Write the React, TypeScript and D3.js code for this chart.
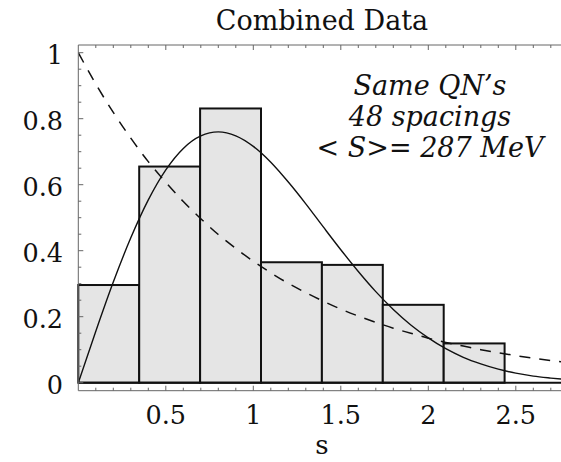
import React from "react";
import * as d3 from "d3";

const W = 561;
const H = 462;

// histogram: bin edges (s in units of <S>) and normalized heights
const binEdges = [0, 0.348, 0.696, 1.044, 1.392, 1.74, 2.088, 2.436];
const binHeights = [0.296, 0.655, 0.831, 0.365, 0.357, 0.236, 0.119];

// curves
const curveS = [0, 0.1, 0.2, 0.3, 0.4, 0.5, 0.6, 0.7, 0.8, 0.9, 1.0, 1.1, 1.2, 1.3, 1.4, 1.5, 1.6, 1.7, 1.8, 1.9, 2.0, 2.1, 2.2, 2.3, 2.4, 2.5, 2.6, 2.7, 2.8];
const wignerVals = [0, 0.156, 0.305, 0.439, 0.554, 0.645, 0.710, 0.748, 0.760, 0.748, 0.716, 0.668, 0.608, 0.542, 0.472, 0.403, 0.337, 0.276, 0.222, 0.175, 0.136, 0.103, 0.077, 0.057, 0.041, 0.029, 0.020, 0.014, 0.009];
const poissonVals = [1, 0.905, 0.819, 0.741, 0.670, 0.607, 0.549, 0.497, 0.449, 0.407, 0.368, 0.333, 0.301, 0.273, 0.247, 0.223, 0.202, 0.183, 0.165, 0.150, 0.135, 0.122, 0.111, 0.100, 0.091, 0.082, 0.074, 0.067, 0.061];

const xTickLabels = [0.5, 1, 1.5, 2, 2.5];
const yTickLabels = [0, 0.2, 0.4, 0.6, 0.8, 1];

const title = "Combined Data";
const xLabel = "s";
const noteLines = ["Same QN\u2019s", "48 spacings", "< S>= 287 MeV"];

export default function App() {
  const left = 78.3;
  const right = 561;
  const top = 45;
  const bottom = 390.7;
  const x = d3.scaleLinear().domain([0, 2.76]).range([left, left + 2.76 * 175]);
  const y = d3.scaleLinear().domain([0, 1]).range([382.7, 52.7]);

  const serif = "'DejaVu Serif', serif";

  const wignerLine = d3
    .line<number>()
    .x((_, i) => x(curveS[i]))
    .y((d) => y(d))
    .curve(d3.curveMonotoneX)(wignerVals) as string;
  const poissonLine = d3
    .line<number>()
    .x((_, i) => x(curveS[i]))
    .y((d) => y(d))
    .curve(d3.curveMonotoneX)(poissonVals) as string;

  const xMinor = d3.range(1, 28).map((i) => i / 10);
  const yMinor = d3.range(0, 21).map((i) => i / 20);

  return (
    <svg
      width={W}
      height={H}
      style={{ position: "absolute", left: 0, top: 0, background: "#fff" }}
    >
      <defs>
        <clipPath id="plot">
          <rect x={left} y={top} width={right - left} height={bottom - top} />
        </clipPath>
      </defs>
      {/* bars */}
      {binHeights.map((h, i) => (
        <rect
          key={i}
          x={x(binEdges[i])}
          y={y(h)}
          width={x(binEdges[i + 1]) - x(binEdges[i])}
          height={y(0) - y(h)}
          fill="#e5e5e5"
          stroke="#111"
          strokeWidth={2}
        />
      ))}
      {/* zero axis */}
      <line x1={left} x2={right} y1={y(0)} y2={y(0)} stroke="#111" strokeWidth={2} />
      <g clipPath="url(#plot)">
        <path d={poissonLine} fill="none" stroke="#111" strokeWidth={1.5} strokeDasharray="11,9" />
        <path d={wignerLine} fill="none" stroke="#111" strokeWidth={1.4} />
      </g>
      {/* frame */}
      <path
        d={`M${right},${top}H${left}V${bottom}H${right}`}
        fill="none"
        stroke="#666"
        strokeWidth={1}
      />
      {/* x ticks top & bottom */}
      {xMinor.map((v, i) => {
        const major = Math.abs(v * 2 - Math.round(v * 2)) < 1e-6;
        const len = major ? 5 : 3;
        return (
          <g key={"xt" + i} stroke="#666" strokeWidth={1}>
            <line x1={x(v)} x2={x(v)} y1={bottom} y2={bottom - len} />
            <line x1={x(v)} x2={x(v)} y1={top} y2={top + len} />
          </g>
        );
      })}
      {/* y ticks */}
      {yMinor.map((v, i) => {
        const major = Math.abs(v * 5 - Math.round(v * 5)) < 1e-6;
        const len = major ? 5 : 3;
        return (
          <line key={"yt" + i} x1={left} x2={left + len} y1={y(v)} y2={y(v)} stroke="#666" strokeWidth={1} />
        );
      })}
      {/* tick labels */}
      {xTickLabels.map((v) => (
        <text key={"xl" + v} x={x(v)} y={424.3} textAnchor="middle" fontFamily={serif} fontSize={25.5} fill="#111">
          {String(v)}
        </text>
      ))}
      {yTickLabels.map((v) => (
        <text key={"yl" + v} x={63} y={y(v) + 10.8} textAnchor="end" fontFamily={serif} fontSize={25.5} fill="#111">
          {String(v)}
        </text>
      ))}
      {/* title */}
      <text x={322} y={30} textAnchor="middle" fontFamily={serif} fontSize={27} fill="#111">
        {title}
      </text>
      {/* x label */}
      <text x={322} y={454} textAnchor="middle" fontFamily={serif} fontSize={26} fill="#111">
        {xLabel}
      </text>
      {/* note */}
      {noteLines.map((t, i) => (
        <text
          key={"n" + i}
          x={430}
          y={95 + i * 31}
          textAnchor="middle"
          fontFamily={serif}
          fontStyle="italic"
          fontSize={27}
          fill="#111"
        >
          {t}
        </text>
      ))}
    </svg>
  );
}
